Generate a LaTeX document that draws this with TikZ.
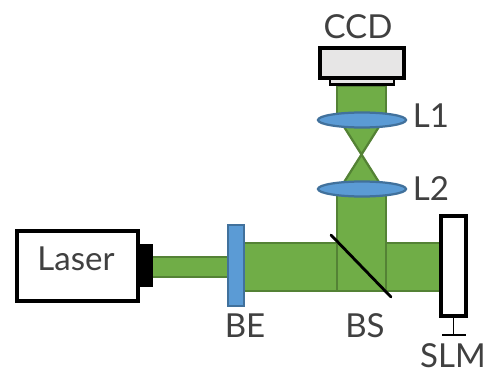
\documentclass[tikz,border=0pt]{standalone}
\usepackage{fontspec}
\setmainfont{Lato}
\definecolor{beamgreen}{HTML}{70AD47}
\definecolor{beamedge}{HTML}{548235}
\definecolor{opticblue}{HTML}{5B9BD5}
\definecolor{opticedge}{HTML}{41719C}
\definecolor{ccdgray}{HTML}{E7E6E6}
\definecolor{labelgray}{HTML}{404040}
\tikzset{
    beam/.style={fill=beamgreen, draw=beamedge, line width=1.6pt},
    optic/.style={fill=opticblue, draw=opticedge, line width=1.6pt},
    device/.style={draw=black, line width=2.2pt, fill=white},
    lab/.style={text=labelgray, font=\fontsize{23.5}{23.5}\selectfont, inner sep=0pt}
}

\begin{document}
\begin{tikzpicture}[x=0.025cm, y=-0.025cm]
\useasboundingbox (0,0) rectangle (489,374);

% Narrow beam from laser
\draw[beam] (150,257) rectangle (230,277);

% Wide beam, horizontal and vertical parts
\draw[beam] (240,243) rectangle (441,291);
\draw[beam] (337,86) rectangle (386,120);
\draw[beam] (337,189) rectangle (386,291);

% Beam between the two lenses
\draw[beam] (341,122) -- (382,122) -- (341,187) -- (382,187) -- cycle;

% Laser
\draw[device] (17,231) rectangle (138,301);
\fill[black] (139,244) rectangle (153,287);
\node[lab] (laser) at (76,259) {Laser};

% Beam expander
\draw[optic] (228,225) rectangle (244,306);
\node[lab] (be) at (245,326) {BE};

% Lenses
\draw[optic] (362,120) ellipse (44 and 7.5);
\draw[optic] (362,189) ellipse (44 and 7.5);
\node[lab] (lone) at (431,116) {L1};
\node[lab] (ltwo) at (431,189) {L2};

% CCD
\draw[device, fill=ccdgray] (320,48) rectangle (404,78);
\draw[black, line width=1.8pt, fill=ccdgray] (330,79) rectangle (394,84.5);
\node[lab] (ccd) at (358,27) {CCD};

% Beam splitter
\draw[black, line width=2pt, line cap=round] (331,235) -- (391,297);
\node[lab] (bs) at (365,326) {BS};

% SLM
\draw[device] (441,216) rectangle (466,316);
\draw[black, thick] (453.5,316) -- (453.5,335);
\draw[black, thick] (442,335) -- (466,335);
\node[lab] (slm) at (453,356) {SLM};

\end{tikzpicture}
\end{document}
